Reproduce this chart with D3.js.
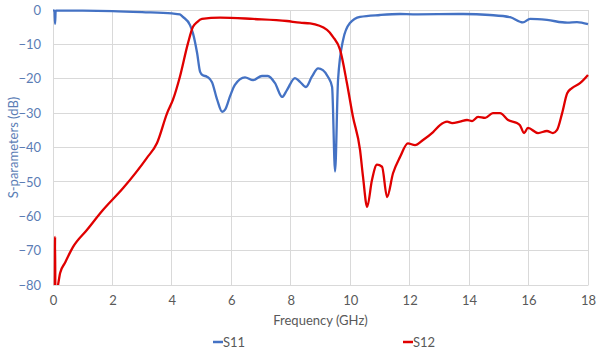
<!DOCTYPE html>
<html><head><meta charset="utf-8">
<script src="https://cdn.jsdelivr.net/npm/d3@7"></script>
<style>body{margin:0;background:#fff;}svg{display:block;font-family:Lato,"Open Sans",sans-serif;}</style>
</head><body><svg id="c" width="600" height="355"></svg>
<script>
const xTicks = [0,2,4,6,8,10,12,14,16,18];
const yTicks = [0,-10,-20,-30,-40,-50,-60,-70,-80];
const s11Freq = [0,0.05,0.07,0.09,0.5,1,2,3,4,4.27,4.37,4.61,4.71,4.85,4.95,5.04,5.18,5.35,5.52,5.69,5.79,5.96,6.12,6.46,6.73,7.03,7.23,7.47,7.71,7.87,8.14,8.31,8.51,8.71,8.92,9.08,9.25,9.39,9.49,9.59,9.76,9.99,10.33,11.0,11.68,12.11,13.8,14.7,15.38,15.81,16.05,16.62,17.3,17.63,18];
const s11dB = [-0.1,-0.2,-4,-0.2,-0.2,-0.2,-0.3,-0.6,-1,-1.3,-2,-4.4,-6.8,-12.6,-18,-19,-19.4,-21,-26,-29.6,-29,-25,-21.8,-19.6,-20.4,-19.2,-19.2,-21.3,-25.3,-23.3,-19.8,-20.9,-22.4,-19.4,-17,-17.5,-19.4,-22.4,-47,-20.4,-8.7,-3.8,-2,-1.45,-1.16,-1.25,-1.16,-1.45,-2.1,-3.6,-2.6,-2.9,-3.7,-3.5,-4.1];
const s12Freq = [0.06,0.07,0.08,0.17,0.24,0.40,0.67,1.14,1.68,2.36,3.16,3.50,3.84,4.04,4.27,4.54,4.71,4.85,5.01,5.62,6.73,7.87,8.31,8.65,9.22,9.42,9.66,9.89,10.09,10.33,10.43,10.57,10.73,10.90,11.07,11.24,11.44,11.68,11.94,12.18,12.45,12.79,13.02,13.26,13.43,13.69,13.93,14.10,14.30,14.54,14.80,15.04,15.31,15.61,15.71,15.85,15.98,16.32,16.62,16.82,16.96,17.13,17.30,17.46,17.73,18.0];
const s12dB = [-85,-66,-85,-80,-76.5,-73.6,-69,-64,-58.2,-51.8,-43,-38.7,-30,-26,-19.4,-9.7,-4.9,-3.5,-2.6,-2.2,-2.6,-3.2,-3.7,-3.9,-5.8,-7.8,-11.6,-21.3,-31,-40.7,-48.5,-57.3,-49.5,-45,-45.6,-54.4,-47.5,-42.7,-38.8,-39.3,-37.8,-35.5,-33.5,-32.5,-32.9,-32.5,-32,-32.3,-31.1,-31.4,-30,-30,-32,-32.9,-33.5,-35.8,-34.3,-35.8,-35.2,-35.8,-34.9,-30,-24.2,-22.7,-21.3,-18.9];
const seriesNames = ["S11","S12"];
const colors = ["#4472C4","#E00000"];

const svg = d3.select("#c");
const m = {l:53, r:12, t:10, b:70};
const W = 600, H = 355;
const x = d3.scaleLinear().domain([0,18]).range([m.l, W-m.r]);
const y = d3.scaleLinear().domain([-80,0]).range([H-m.b, m.t]);

// grid
const g = svg.append("g");
g.selectAll(".vg").data(xTicks).join("line")
  .attr("x1",d=>x(d)).attr("x2",d=>x(d)).attr("y1",y(0)).attr("y2",y(-80))
  .attr("stroke","#d9d9d9").attr("stroke-width",1).attr("shape-rendering","crispEdges");
g.selectAll(".hg").data(yTicks).join("line")
  .attr("x1",x(0)).attr("x2",x(18)).attr("y1",d=>y(d)).attr("y2",d=>y(d))
  .attr("stroke","#d9d9d9").attr("stroke-width",1).attr("shape-rendering","crispEdges");

// axes labels via d3 axes
const xa = svg.append("g").attr("transform",`translate(0,${y(-80)})`)
  .call(d3.axisBottom(x).tickValues(xTicks).tickSize(0).tickPadding(11));
xa.select(".domain").attr("stroke","#d9d9d9");
xa.selectAll("text").attr("fill","#595959").attr("font-size",13).attr("font-family","Lato,sans-serif");
const ya = svg.append("g").attr("transform",`translate(${x(0)},0)`)
  .call(d3.axisLeft(y).tickValues(yTicks).tickSize(0).tickPadding(12));
ya.select(".domain").attr("stroke","#d9d9d9");
ya.selectAll("text").attr("fill","#5B7DB5").attr("font-size",13).attr("font-family","Lato,sans-serif");

// clip
svg.append("clipPath").attr("id","clip").append("rect")
  .attr("x",x(0)).attr("y",y(0)-3).attr("width",x(18)-x(0)+2).attr("height",y(-80)-y(0)+3);

const line = d3.line().x(d=>x(d[0])).y(d=>y(d[1])).curve(d3.curveMonotoneX);
const data = [d3.zip(s11Freq,s11dB), d3.zip(s12Freq,s12dB)];
svg.append("g").attr("clip-path","url(#clip)").selectAll("path").data(data).join("path")
  .attr("d",line).attr("fill","none").attr("stroke",(d,i)=>colors[i]).attr("stroke-width",2.3)
  .attr("stroke-linejoin","round");

// titles
svg.append("text").attr("x",(x(0)+x(18))/2).attr("y",325).attr("text-anchor","middle")
  .attr("fill","#595959").attr("font-size",13).text("Frequency (GHz)");
svg.append("text").attr("transform",`translate(18,${(y(0)+y(-80))/2}) rotate(-90)`)
  .attr("text-anchor","middle").attr("fill","#5B7DB5").attr("font-size",13).text("S-parameters (dB)");

// legend
const lx = [213,403];
const lg = svg.append("g").selectAll("g").data(seriesNames).join("g")
  .attr("transform",(d,i)=>`translate(${lx[i]},342)`);
lg.append("line").attr("x1",0).attr("x2",10).attr("y1",0).attr("y2",0)
  .attr("stroke",(d,i)=>colors[i]).attr("stroke-width",2.5);
lg.append("text").attr("x",10).attr("y",4.5).attr("fill","#595959").attr("font-size",13).text(d=>d);
</script></body></html>
